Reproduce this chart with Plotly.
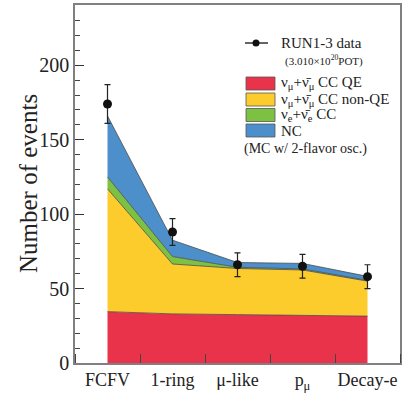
import plotly.graph_objects as go

# ---- data ----
categories = ["FCFV", "1-ring", "μ-like", "p<sub>μ</sub>", "Decay-e"]
cat_pos = [0.5, 1.5, 2.5, 3.5, 4.5]
mc_ccqe = [34.5, 33.0, 32.5, 32.0, 31.5]
mc_ccnonqe = [82.5, 33.5, 31.0, 30.5, 23.5]
mc_nue = [8.0, 5.0, 0.8, 0.7, 0.5]
mc_nc = [41.0, 11.0, 3.2, 3.7, 2.7]
data_vals = [174, 88, 66, 65, 58]
data_err = [13, 9, 8, 8, 8]

series = [
    ("ν<sub>μ</sub>+ν̄<sub>μ</sub> CC QE", mc_ccqe, "#E9334B"),
    ("ν<sub>μ</sub>+ν̄<sub>μ</sub> CC non-QE", mc_ccnonqe, "#FCCB2C"),
    ("ν<sub>e</sub>+ν̄<sub>e</sub> CC", mc_nue, "#7DC143"),
    ("NC", mc_nc, "#4C8FCB"),
]

FONT = "Liberation Serif"
W, H = 407, 397
L, R, T, B = 75, 7, 5, 34


def pxx(x):
    return (x - L) / (W - L - R)


def pxy(y):
    return (H - B - y) / (H - T - B)


fig = go.Figure()
for name, vals, col in series:
    fig.add_trace(go.Scatter(
        x=cat_pos, y=vals, name=name, stackgroup="mc", mode="lines",
        line=dict(color="#4a4a4a", width=0.8), fillcolor=col,
        showlegend=False, hoverinfo="skip"))

fig.add_trace(go.Scatter(
    x=cat_pos, y=data_vals, mode="markers", name="RUN1-3 data",
    marker=dict(color="#111", size=9),
    error_y=dict(type="data", array=data_err, color="#222", thickness=1.2, width=3),
    showlegend=False))

shapes = []
annotations = []
# legend: data entry
ly = 43
shapes.append(dict(type="line", xref="paper", yref="paper", x0=pxx(245), x1=pxx(268),
                   y0=pxy(ly), y1=pxy(ly), line=dict(color="#111", width=1.3)))
shapes.append(dict(type="circle", xref="paper", yref="paper", x0=pxx(252.5), x1=pxx(259.5),
                   y0=pxy(ly + 3.5), y1=pxy(ly - 3.5), fillcolor="#111", line=dict(color="#111", width=0)))
annotations.append(dict(text="RUN1-3 data", xref="paper", yref="paper", x=pxx(279), y=pxy(ly),
                        xanchor="left", yanchor="middle", showarrow=False,
                        font=dict(family=FONT, size=15, color="#222")))
annotations.append(dict(text="(3.010×10<sup>20</sup>POT)", xref="paper", yref="paper", x=pxx(283), y=pxy(60),
                        xanchor="left", yanchor="middle", showarrow=False,
                        font=dict(family=FONT, size=11, color="#222")))
box_rows = [(77, 90), (93, 106), (108.5, 121.5), (124, 137)]
for (y0, y1), (name, vals, col) in zip(box_rows, series):
    shapes.append(dict(type="rect", xref="paper", yref="paper", x0=pxx(246), x1=pxx(275),
                       y0=pxy(y1), y1=pxy(y0), fillcolor=col, line=dict(color="#555", width=0.8)))
    annotations.append(dict(text=name, xref="paper", yref="paper", x=pxx(279), y=pxy((y0 + y1) / 2),
                            xanchor="left", yanchor="middle", showarrow=False,
                            font=dict(family=FONT, size=15, color="#222")))
annotations.append(dict(text="(MC w/ 2-flavor osc.)", xref="paper", yref="paper", x=pxx(242), y=pxy(149),
                        xanchor="left", yanchor="middle", showarrow=False,
                        font=dict(family=FONT, size=14, color="#222")))
# y axis title
annotations.append(dict(text="Number of events", xref="paper", yref="paper", x=pxx(28), y=pxy(184),
                        xanchor="center", yanchor="middle", textangle=-90, showarrow=False,
                        font=dict(family=FONT, size=25, color="#222")))

fig.update_layout(
    width=W, height=H,
    margin=dict(l=L, r=R, t=T, b=B, pad=0, autoexpand=False),
    paper_bgcolor="white", plot_bgcolor="white",
    font=dict(family=FONT, color="#222"),
    shapes=shapes, annotations=annotations,
    showlegend=False,
)
fig.update_xaxes(
    range=[0, 5], tickmode="array", tickvals=cat_pos, ticktext=categories,
    ticks="", showgrid=False, zeroline=False, automargin=False,
    showline=True, mirror=True, linecolor="#808080", linewidth=1.5,
    tickfont=dict(family=FONT, size=18, color="#222"),
    minor=dict(tick0=0, dtick=1, ticks="inside", ticklen=9, tickcolor="#444", tickwidth=1, showgrid=False),
)
fig.update_yaxes(
    range=[0, 240.5], tickmode="linear", tick0=0, dtick=50,
    ticks="inside", ticklen=9, tickcolor="#333", tickwidth=1,
    showgrid=False, zeroline=False, automargin=False,
    showline=True, mirror=True, linecolor="#808080", linewidth=1.5,
    tickfont=dict(family=FONT, size=20, color="#222"),
    minor=dict(dtick=10, ticks="inside", ticklen=5, tickcolor="#444", tickwidth=1, showgrid=False),
)

fig.write_html("out.html", config={"displayModeBar": False},
               post_script="document.body.style.margin='0';")
